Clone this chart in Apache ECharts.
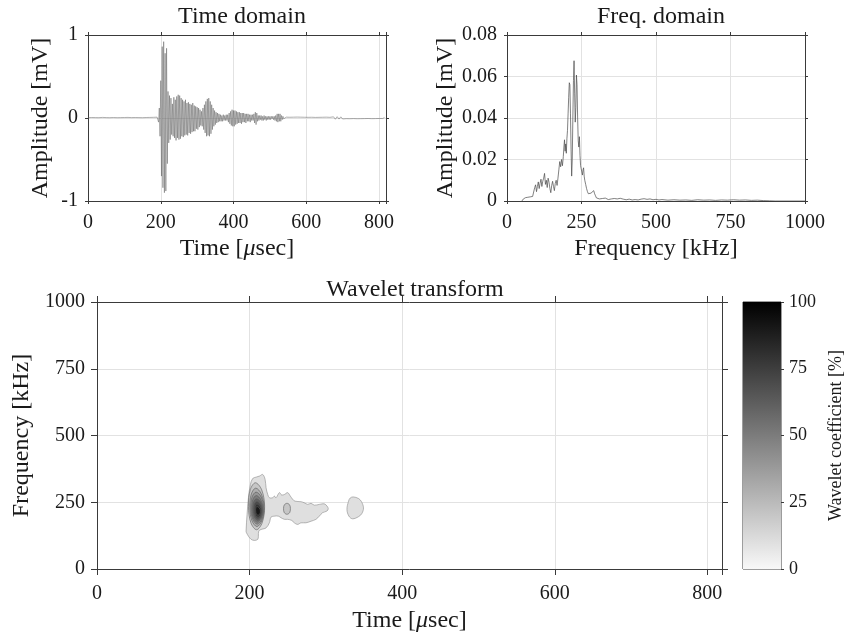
<!DOCTYPE html>
<html><head><meta charset="utf-8">
<script src="https://cdn.jsdelivr.net/npm/echarts@6/dist/echarts.min.js"></script>
<style>html,body{margin:0;padding:0;background:#fff}#c{width:846px;height:635px}</style>
</head><body><div id="c"></div>
<script>
// ---------- Time domain (mV) ----------
var preStart = 0, preStep = 5;
var preAmp = [0.004,-0.005,0.006,-0.004,0.005,-0.006,0.004,-0.005,0.007,-0.004,
  0.005,-0.006,0.004,-0.005,0.006,-0.005,0.004,-0.006,0.005,-0.004,
  0.006,-0.005,0.007,-0.006,0.005,-0.004,0.006,-0.007,0.005,-0.006,
  0.004,-0.005,0.006,-0.005,0.007,-0.006,0.008,-0.007,0.010];
var burstStart = 192, burstStep = 2;
var burstAmp = [0.02,-0.05,0.12,-0.22,0.45,-0.70,0.86,-0.84,0.92,-0.90,
  0.78,-0.88,0.84,-0.55,0.32,-0.30,0.27,-0.26,0.24,-0.20,
  0.17,-0.22,0.25,-0.24,0.22,-0.27,0.26,-0.24,0.28,-0.26,
  0.27,-0.25,0.24,-0.22,0.22,-0.23,0.20,-0.21,0.22,-0.20,
  0.18,-0.21,0.19,-0.18,0.17,-0.19,0.16,-0.17,0.18,-0.16,
  0.15,-0.16,0.14,-0.13,0.13,-0.14,0.12,-0.11,0.10,-0.09,
  0.08,-0.10,0.12,-0.14,0.16,-0.18,0.20,-0.22,0.23,-0.21,
  0.24,-0.22,0.20,-0.19,0.16,-0.14,0.12,-0.10,0.09,-0.08,
  0.07,-0.06,0.06,-0.05,0.05,-0.04,0.04,-0.04,0.03,-0.04,
  0.04,-0.03,0.03,-0.03,0.04,-0.03,0.04,-0.05,0.06,-0.07,
  0.08,-0.09,0.10,-0.10,0.09,-0.10,0.09,-0.08,0.08,-0.07,
  0.07,-0.06,0.07,-0.06,0.06,-0.07,0.06,-0.05,0.06,-0.05,
  0.05,-0.06,0.05,-0.04,0.05,-0.04,0.04,-0.05,0.04,-0.03,
  0.04,-0.03,0.05,-0.06,0.07,-0.08,0.06,-0.04,0.03,-0.03,
  0.03,-0.02,0.03,-0.03,0.02,-0.03,0.03,-0.02,0.02,-0.03,
  0.02,-0.02,0.02,-0.02,0.02,-0.02,0.02,-0.01,0.02,-0.02,
  0.02,-0.03,0.03,-0.04,0.05,-0.05,0.05,-0.04,0.05,-0.04,
  0.03,-0.02,0.02,-0.01,0.01];
var tailStart = 545, tailStep = 5;
var tailAmp = [0.010,-0.012,0.009,-0.011,0.010,-0.008,0.011,-0.009,0.010,-0.008,
  0.009,-0.010,0.008,-0.007,0.009,-0.008,0.007,-0.009,0.008,-0.007,
  0.009,-0.008,0.010,-0.009,0.008,-0.012,0.014,-0.015,0.016,-0.013,
  0.014,-0.012,0.009,-0.008,0.007,-0.009,0.008,-0.007,0.008,-0.009,
  0.007,-0.008,0.006,-0.007,0.008,-0.006,0.007,-0.008,0.006,-0.007,
  0.008,-0.006,0.007,-0.006,0.005];

// ---------- Frequency domain ----------
var freqKHz = [50,55,58,62,66,70,74,78,82,86,90,93,96,99,102,105,108,111,114,117,120,123,126,129,132,135,138,141,144,147,150,153,156,159,162,165,168,171,174,177,180,183,186,189,191,193,195,197,199,201,203,205,207,209,211,213,215,217,219,221,223,225,227,229,231,233,235,237,239,241,243,245,247,249,251,253,255,257,259,261,264,267,270,273,276,279,282,285,288,291,294,297,300,305,310,315,320,325,330,335,340,345,350,355,360,365,370,375,380,390,400,410,420,430,440,450,460,470,480,490,500,510,520,540,560,580,600,620,640,660,680,700,720,740,760,780,800,820,840,860,880,900,1000];
var specAmp = [0,0.0010,0.0013,0.0016,0.0012,0.0018,0.0014,0.0020,0.0017,0.0022,0.0030,0.0065,0.0078,0.0045,0.0070,0.0092,0.0060,0.0085,0.0105,0.0070,0.0095,0.0110,0.0133,0.0080,0.0100,0.0065,0.0110,0.0090,0.0060,0.0040,0.0075,0.0095,0.0070,0.0050,0.0085,0.0100,0.0075,0.0110,0.0150,0.0190,0.0165,0.0200,0.0170,0.0215,0.0260,0.0295,0.0240,0.0275,0.0230,0.0300,0.0340,0.0420,0.0500,0.0570,0.0560,0.0420,0.0250,0.0120,0.0200,0.0400,0.0580,0.0676,0.0520,0.0380,0.0450,0.0607,0.0560,0.0400,0.0290,0.0260,0.0310,0.0220,0.0170,0.0155,0.0140,0.0125,0.0150,0.0160,0.0120,0.0100,0.0080,0.0060,0.0045,0.0035,0.0040,0.0030,0.0038,0.0045,0.0040,0.0050,0.0035,0.0025,0.0015,0.0008,0.0010,0.0006,0.0012,0.0009,0.0014,0.0010,0.0007,0.0013,0.0010,0.0015,0.0012,0.0016,0.0010,0.0008,0.0013,0.0009,0.0006,0.0009,0.0005,0.0007,0.0005,0.0009,0.0011,0.0008,0.0010,0.0006,0.0008,0.0005,0.0007,0.0004,0.0006,0.0004,0.0005,0.0003,0.0006,0.0004,0.0005,0.0003,0.0005,0.0004,0.0006,0.0004,0.0005,0.0003,0.0004,0.0002,0.0001,0,0];

// ---------- Wavelet transform contours: [time µs, freq kHz] ----------
var contourLevels = [10, 10, 20, 20, 30, 40, 50, 60, 70, 80, 90];
var contour10Main = [[195.4,142],[196.7,204],[198.5,267],[201.1,317],[204.1,339],[208.5,344],[212.9,348],[217.2,354],[220.3,336],[221.6,304],[223.8,279],[225.9,267],[230.3,267],[232.5,273],[234.7,267],[239.0,286],[242.1,277],[245.6,279],[249.9,286],[253.4,273],[256.5,261],[259.5,254],[267.4,252],[271.7,248],[276.1,242],[280.5,246],[284.8,239],[291.4,242],[297.9,244],[301.4,236],[303.1,226],[301.4,217],[295.7,211],[291.4,198],[287.0,186],[280.5,179],[273.9,173],[267.4,173],[263.0,167],[258.6,173],[255.2,182],[249.9,186],[245.6,186],[241.2,192],[237.7,198],[232.5,198],[228.1,194],[225.9,173],[221.6,154],[215.0,148],[212.0,142],[211.5,123],[210.7,111],[206.3,107],[202.0,111],[198.5,123],[195.9,136]];
var contour10Side = [[335.8,270],[342.8,264],[346.7,252],[349.3,229],[347.2,208],[342.8,196],[335.0,188],[330.2,198],[327.6,223],[329.7,254],[331.9,266]];
var contour20Side = [[249,246],[252.5,240],[253.5,226],[252.5,211],[249,205],[245.5,211],[244.5,226],[245.5,240]];
var ring20 = [[219.7,235],[215.8,297],[207.6,323],[200.9,297],[198.5,235],[201.7,173],[209.1,147],[216.5,173]];
var ring30 = [[219.0,231],[215.4,281],[208.1,303],[202.3,281],[200.2,231],[203.0,181],[209.6,159],[216.2,181]];
var ring40 = [[218.5,228],[215.2,270],[208.5,288],[203.3,270],[201.5,228],[204.1,186],[210.0,168],[216.0,186]];
var ring50 = [[217.6,225],[214.6,260],[208.7,275],[204.3,260],[202.8,225],[205.0,190],[210.2,175],[215.4,190]];
var ring60 = [[217.1,222.5],[214.4,251],[209.1,263],[205.3,251],[204.1,222.5],[206.1,194],[210.6,182],[215.2,194]];
var ring70 = [[216.4,220.5],[214.0,243],[209.4,253],[206.3,243],[205.4,220.5],[207.1,198],[210.9,188],[214.8,198]];
var ring80 = [[215.4,218.5],[213.4,236],[209.6,243],[207.4,236],[206.8,218.5],[208.1,201],[211.1,194],[214.1,201]];
var ring90 = [[214.2,217.5],[212.5,229],[209.6,234],[208.2,229],[208.0,217.5],[208.9,206],[211.1,201],[213.3,206]];
var contourShapes = [contour10Main, contour10Side, contour20Side, ring20, ring30, ring40, ring50, ring60, ring70, ring80, ring90];

// ---------- Tick labels ----------
var timeTicks = [0, 200, 400, 600, 800];
var colorbarTicks = [0, 25, 50, 75, 100];

// ---------- build ----------
function sampled(start, step, arr){ return arr.map(function(v,i){ return [start + step*i, v]; }); }
var timeSeries = [].concat(sampled(preStart,preStep,preAmp), sampled(burstStart,burstStep,burstAmp), sampled(tailStart,tailStep,tailAmp));
var specSeries = freqKHz.map(function(f,i){ return [f, specAmp[i]]; });
function cmap(v){ var g = Math.round(248*(1-v/100)); return 'rgb('+g+','+g+','+g+')'; }

var FF = 'Liberation Serif', TXT = '#1a1a1a', AX = '#3a3a3a', GRIDC = '#e2e2e2';
var tickFont = 20, labFont = 24, cbFont = 18;
function timeFmt(v){ return timeTicks.indexOf(v) >= 0 ? String(v) : ''; }
function plainFmt(v){ return String(v); }

function mkX(gi, min, max, interval, tickLen, opts){
  opts = opts || {};
  return [{
    gridIndex: gi, type:'value', position:'bottom', min:min, max:max, interval:interval,
    name: opts.name || '', nameLocation:'middle', nameGap: opts.nameGap || 30,
    nameTextStyle:{fontFamily:FF, fontSize:labFont, color:TXT, rich:{it:{fontFamily:FF,fontSize:labFont,fontStyle:'italic',color:TXT}}},
    axisLine:{show:true,onZero:false,lineStyle:{color:AX,width:1}},
    axisTick:{show:true,inside:false,length:tickLen,lineStyle:{color:AX}},
    splitLine:{show:true,lineStyle:{color:GRIDC,width:1}},
    axisLabel:{fontFamily:FF,fontSize:tickFont,color:TXT,margin:opts.margin||12,formatter:opts.fmt||plainFmt}
  },{
    gridIndex: gi, type:'value', position:'top', min:min, max:max, interval:interval,
    axisLine:{show:true,onZero:false,lineStyle:{color:AX,width:1}},
    axisTick:{show:true,inside:false,length:tickLen,lineStyle:{color:AX}},
    splitLine:{show:false}, axisLabel:{show:false}
  }];
}
function mkY(gi, min, max, interval, tickLen, opts){
  opts = opts || {};
  return [{
    gridIndex: gi, type:'value', position:'left', min:min, max:max, interval:interval,
    name: opts.name || '', nameLocation:'middle', nameGap: opts.nameGap || 30, nameRotate:90,
    nameTextStyle:{fontFamily:FF, fontSize:labFont, color:TXT},
    axisLine:{show:true,onZero:false,lineStyle:{color:AX,width:1}},
    axisTick:{show:true,inside:false,length:tickLen,lineStyle:{color:AX}},
    splitLine:{show:true,lineStyle:{color:GRIDC,width:1}},
    axisLabel:{fontFamily:FF,fontSize:tickFont,color:TXT,margin:opts.margin||10,formatter:opts.fmt||plainFmt}
  },{
    gridIndex: gi, type:'value', position:'right', min:min, max:max, interval:interval,
    axisLine:{show:true,onZero:false,lineStyle:{color:AX,width:1}},
    axisTick:{show:true,inside:false,length:tickLen,lineStyle:{color:AX}},
    splitLine:{show:false}, axisLabel:{show:false}
  }];
}

var xAxes = [].concat(
  mkX(0, 0, 819.2, 200, 3, {name:'Time [{it|\u03bc}sec]', nameGap:36, fmt:timeFmt}),
  mkX(1, 0, 1000, 250, 3, {name:'Frequency [kHz]', nameGap:36}),
  mkX(2, 0, 819.2, 200, 6, {name:'Time [{it|\u03bc}sec]', nameGap:40, fmt:timeFmt, margin:15}),
  [{gridIndex:3, type:'value', min:0, max:1, show:false}]
);
var yAxes = [].concat(
  mkY(0, -1, 1, 1, 3, {name:'Amplitude [mV]', nameGap:35}),
  mkY(1, 0, 0.08, 0.02, 3, {name:'Amplitude [mV]', nameGap:48}),
  mkY(2, 0, 1000, 250, 6, {name:'Frequency [kHz]', nameGap:62, margin:12}),
  [{gridIndex:3, type:'value', position:'left', min:0, max:100, interval:25, axisLine:{show:false}, axisTick:{show:false}, axisLabel:{show:false}, splitLine:{show:false}},
   {gridIndex:3, type:'value', position:'right', min:0, max:100, interval:25,
    name:'Wavelet coefficient [%]', nameLocation:'middle', nameRotate:90, nameGap:46,
    nameTextStyle:{fontFamily:FF,fontSize:cbFont,color:TXT},
    axisLine:{show:false}, axisTick:{show:true,inside:false,length:3,lineStyle:{color:AX}},
    splitLine:{show:false},
    axisLabel:{fontFamily:FF,fontSize:cbFont,color:TXT,margin:8,formatter:function(v){return colorbarTicks.indexOf(v)>=0?String(v):'';}}}]
);

var chart = echarts.init(document.getElementById('c'), null, {renderer:'canvas'});
chart.setOption({
  animation:false,
  backgroundColor:'#fff',
  title:[
    {text:'Time domain', left:237, top:0, textAlign:'center', textStyle:{fontFamily:FF,fontSize:labFont,fontWeight:'normal',color:TXT}},
    {text:'Freq. domain', left:656, top:0, textAlign:'center', textStyle:{fontFamily:FF,fontSize:labFont,fontWeight:'normal',color:TXT}},
    {text:'Wavelet transform', left:410, top:273, textAlign:'center', textStyle:{fontFamily:FF,fontSize:labFont,fontWeight:'normal',color:TXT}}
  ],
  grid:[
    {left:88, top:35, width:298, height:166, outerBoundsMode:'none'},
    {left:507, top:35, width:298, height:166, outerBoundsMode:'none'},
    {left:97, top:302, width:625, height:267, outerBoundsMode:'none'},
    {left:743, top:302, width:38, height:267, outerBoundsMode:'none', show:true, borderColor:AX, borderWidth:1, backgroundColor:'transparent'}
  ],
  xAxis: xAxes,
  yAxis: yAxes,
  series:[
    {type:'line', xAxisIndex:0, yAxisIndex:0, data:timeSeries, showSymbol:false, symbol:'none',
     lineStyle:{color:'#5e5e5e', width:0.5}, clip:true},
    {type:'line', xAxisIndex:2, yAxisIndex:2, data:specSeries, showSymbol:false, symbol:'none',
     lineStyle:{color:'#4a4a4a', width:0.7}, clip:true},
    {type:'custom', xAxisIndex:4, yAxisIndex:4,
     data: contourShapes.map(function(s,i){ return [s[0][0], s[0][1], contourLevels[i]]; }),
     renderItem:function(params, api){
       var shape = contourShapes[params.dataIndex];
       var lvl = contourLevels[params.dataIndex];
       var pts = shape.map(function(p){ return api.coord(p); });
       return {type:'polygon', shape:{points:pts, smooth:0.35},
               style:{fill:cmap(lvl), stroke: lvl>10 ? '#5a5a5a' : '#8a8a8a', lineWidth:0.6}};
     }},
    {type:'custom', xAxisIndex:6, yAxisIndex:6, data:[[0,0,1,100]],
     renderItem:function(params, api){
       var p0 = api.coord([api.value(0), api.value(3)]);
       var p1 = api.coord([api.value(2), api.value(1)]);
       return {type:'rect', shape:{x:p0[0], y:p0[1], width:p1[0]-p0[0], height:p1[1]-p0[1]},
         style:{fill:new echarts.graphic.LinearGradient(0,0,0,1,[{offset:0,color:cmap(100)},{offset:1,color:cmap(0)}])}};
     }}
  ]
});
</script></body></html>
